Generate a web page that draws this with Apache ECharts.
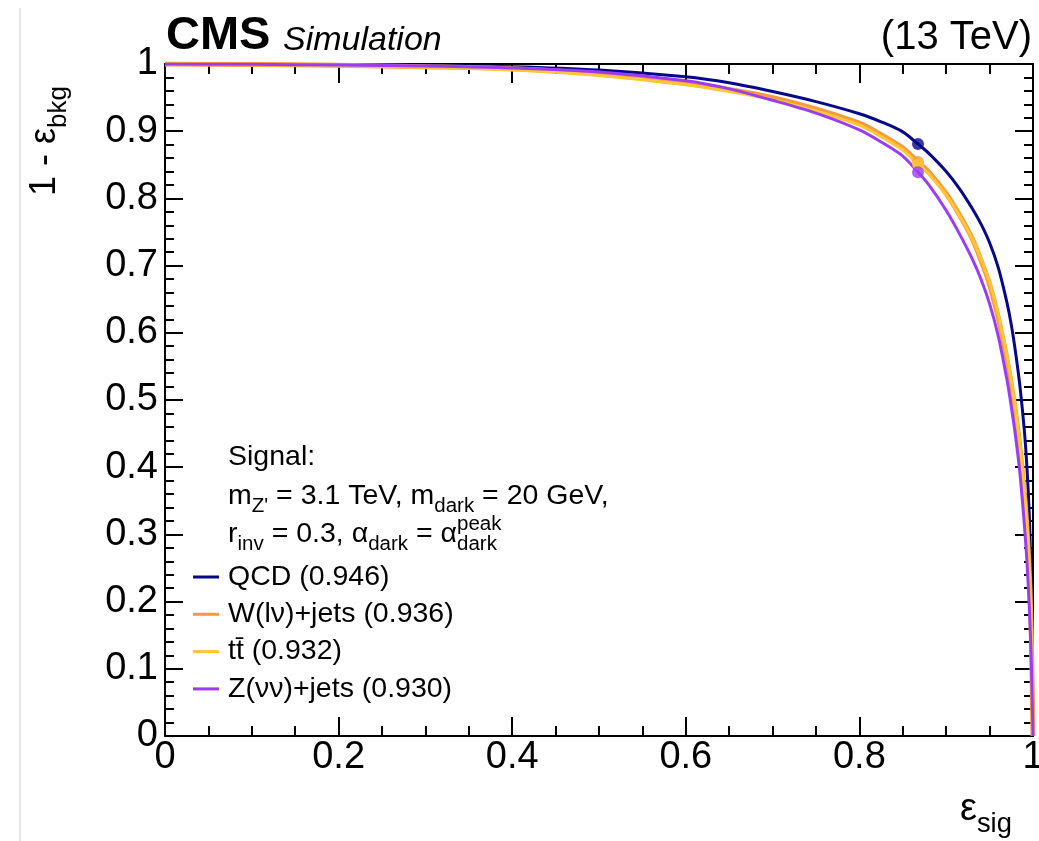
<!DOCTYPE html>
<html>
<head>
<meta charset="utf-8">
<script src="https://cdn.jsdelivr.net/npm/echarts@6/dist/echarts.min.js"></script>
<style>
html,body{margin:0;padding:0;background:#fff;overflow:hidden;}
#chart{width:1039px;height:841px;}
</style>
</head>
<body>
<div id="chart"></div>
<script>
// ---------------- data ----------------
const sigEff = [0, 0.1, 0.2, 0.3, 0.4, 0.5, 0.6, 0.65, 0.7, 0.75, 0.8, 0.825, 0.85, 0.8675, 0.88, 0.9, 0.915, 0.93, 0.94, 0.95, 0.96, 0.97, 0.975, 0.98, 0.985, 0.99, 0.993, 0.996, 0.998, 1.0];
const rejQCD = [1.0, 0.9997, 0.999, 0.998, 0.996, 0.991, 0.981, 0.972, 0.959, 0.944, 0.926, 0.914, 0.899, 0.881, 0.867, 0.840, 0.815, 0.785, 0.762, 0.734, 0.697, 0.645, 0.612, 0.570, 0.520, 0.455, 0.400, 0.320, 0.220, 0.0];
const rejW   = [1.0, 0.9993, 0.998, 0.996, 0.993, 0.985, 0.971, 0.962, 0.950, 0.933, 0.912, 0.895, 0.875, 0.854, 0.839, 0.807, 0.776, 0.740, 0.708, 0.672, 0.622, 0.560, 0.523, 0.480, 0.428, 0.360, 0.310, 0.235, 0.155, 0.0];
const rejTT  = [1.0, 0.9990, 0.9975, 0.995, 0.991, 0.983, 0.969, 0.959, 0.947, 0.930, 0.909, 0.892, 0.872, 0.851, 0.836, 0.805, 0.775, 0.740, 0.710, 0.675, 0.627, 0.566, 0.529, 0.486, 0.434, 0.366, 0.316, 0.240, 0.160, 0.0];
const rejZ   = [1.0, 0.9995, 0.9985, 0.997, 0.994, 0.988, 0.975, 0.963, 0.946, 0.927, 0.902, 0.884, 0.863, 0.839, 0.820, 0.782, 0.748, 0.710, 0.680, 0.643, 0.595, 0.530, 0.490, 0.445, 0.390, 0.315, 0.260, 0.185, 0.115, 0.0];
const seriesNames = ['QCD (0.946)', 'W(l\u03bd)+jets (0.936)', 'tt\u0304 (0.932)', 'Z(\u03bd\u03bd)+jets (0.930)'];
const wpSig = 0.8675;
const wpRej = [0.881, 0.854, 0.851, 0.839];
const xTickLabels = ['0', '0.2', '0.4', '0.6', '0.8', '1'];
const yTickLabels = ['0', '0.1', '0.2', '0.3', '0.4', '0.5', '0.6', '0.7', '0.8', '0.9', '1'];

// ---------------- styling ----------------
const colors = ['#07078a', '#fb9a3c', '#fdc634', '#9b3cf5'];
const widths = [3, 5, 3, 3];
const FONT = '"Liberation Sans", Arial, Helvetica, sans-serif';

const chart = echarts.init(document.getElementById('chart'));

const allRej = [rejQCD, rejW, rejTT, rejZ];
const series = [];
allRej.forEach((rej, i) => {
  series.push({
    name: seriesNames[i], type: 'line', showSymbol: false, smooth: 0.3,
    data: sigEff.map((s, k) => [s, rej[k]]),
    lineStyle: { color: colors[i], width: widths[i] },
    itemStyle: { color: colors[i] },
    z: 2 + i, animation: false
  });
});
allRej.forEach((rej, i) => {
  series.push({
    name: 'wp' + i, type: 'scatter', symbol: 'circle', symbolSize: 12,
    data: [[wpSig, wpRej[i]]],
    itemStyle: { color: colors[i] }, z: 10 + i, animation: false
  });
});

// ---------- rich text helper (sub/superscripts); y0 = baseline ----------
const mctx = document.createElement('canvas').getContext('2d');
function tw(t, size, style) { mctx.font = (style || '') + ' ' + size + 'px ' + FONT; return mctx.measureText(t).width; }
function txt(text, x, base, size, style) {
  return { type: 'text', style: { text: text, x: x, y: base - size * 0.35, font: (style || '') + ' ' + size + 'px ' + FONT, fill: '#000', verticalAlign: 'middle', align: 'left' } };
}
function richLine(x0, y0, segs, size, rot) {
  const children = [];
  let x = 0;
  const small = size * 0.72;
  segs.forEach(s => {
    if (s.stack) {
      children.push(txt(s.stack.sup, x, -size * 0.45, small));
      children.push(txt(s.stack.sub, x, size * 0.28, small));
      x += Math.max(tw(s.stack.sup, small), tw(s.stack.sub, small));
    } else {
      const fs = (s.sub || s.sup) ? small : size;
      const dy = s.sub ? size * 0.28 : (s.sup ? -size * 0.45 : 0);
      children.push(txt(s.t, x, dy, fs, s.style));
      x += tw(s.t, fs, s.style);
    }
  });
  return { type: 'group', x: x0, y: y0, rotation: rot || 0, children: children };
}

const LS = 28.5;
const graphics = [
  { type: 'line', shape: { x1: 20, y1: 8, x2: 20, y2: 841 }, style: { stroke: '#e6e6e6', lineWidth: 2 }, silent: true },
  richLine(166, 52, [{ t: 'CMS', style: 'bold' }], 47, 0),
  richLine(283, 52, [{ t: 'Simulation', style: 'italic' }], 34, 0),
  { type: 'text', style: { text: '(13 TeV)', x: 1032, y: 52 - 40 * 0.35, font: '40px ' + FONT, fill: '#000', align: 'right', verticalAlign: 'middle' } },
  richLine(960, 823, [{ t: '\u03b5' }, { t: 'sig', sub: true }], 38, 0),
  richLine(58, 196, [{ t: '1 - \u03b5' }, { t: 'bkg', sub: true }], 36, Math.PI / 2),
  richLine(228, 467, [{ t: 'Signal:' }], LS, 0),
  richLine(228, 506, [{ t: 'm' }, { t: "Z'", sub: true }, { t: ' = 3.1 TeV, m' }, { t: 'dark', sub: true }, { t: ' = 20 GeV,' }], LS, 0),
  richLine(228, 544, [{ t: 'r' }, { t: 'inv', sub: true }, { t: ' = 0.3, \u03b1' }, { t: 'dark', sub: true }, { t: ' = \u03b1' }, { stack: { sup: 'peak', sub: 'dark' } }], LS, 0)
];

const axisCommon = {
  min: 0, max: 1,
  axisLine: { show: true, onZero: false, lineStyle: { color: '#000', width: 2 } },
  splitLine: { show: false }
};

const option = {
  backgroundColor: '#fff',
  animation: false,
  grid: { left: 165, right: 6, top: 64, bottom: 105, containLabel: false, outerBoundsMode: 'none' },
  xAxis: [
    Object.assign({}, axisCommon, {
      type: 'value', position: 'bottom', interval: 0.2,
      axisTick: { show: true, inside: true, length: 19, lineStyle: { color: '#000', width: 2 } },
      minorTick: { show: true, splitNumber: 4, length: 10, lineStyle: { color: '#000', width: 2 } },
      axisLabel: { show: true, fontSize: 38, fontFamily: FONT, color: '#000', margin: 3,
        formatter: v => xTickLabels[Math.round(v / 0.2)] }
    }),
    Object.assign({}, axisCommon, {
      type: 'value', position: 'top', interval: 0.2,
      axisTick: { show: true, inside: true, length: 19, lineStyle: { color: '#000', width: 2 } },
      minorTick: { show: true, splitNumber: 4, length: 10, lineStyle: { color: '#000', width: 2 } },
      axisLabel: { show: false }
    })
  ],
  yAxis: [
    Object.assign({}, axisCommon, {
      type: 'value', position: 'left', interval: 0.1,
      axisTick: { show: true, inside: true, length: 18, lineStyle: { color: '#000', width: 2 } },
      minorTick: { show: true, splitNumber: 5, length: 9, lineStyle: { color: '#000', width: 2 } },
      axisLabel: { show: true, fontSize: 38, fontFamily: FONT, color: '#000', margin: 7,
        formatter: v => yTickLabels[Math.round(v / 0.1)] }
    }),
    Object.assign({}, axisCommon, {
      type: 'value', position: 'right', interval: 0.1,
      axisTick: { show: true, inside: true, length: 18, lineStyle: { color: '#000', width: 2 } },
      minorTick: { show: true, splitNumber: 5, length: 9, lineStyle: { color: '#000', width: 2 } },
      axisLabel: { show: false }
    })
  ],
  legend: {
    show: true, orient: 'vertical', left: 188, top: 557,
    data: seriesNames, icon: 'rect', itemWidth: 26, itemHeight: 3, itemGap: 7.3,
    textStyle: { fontSize: LS, fontFamily: FONT, color: '#000', lineHeight: 30, padding: [0, 0, 0, 4] },
    selectedMode: false
  },
  series: series,
  graphic: graphics
};
chart.setOption(option);
</script>
</body>
</html>
